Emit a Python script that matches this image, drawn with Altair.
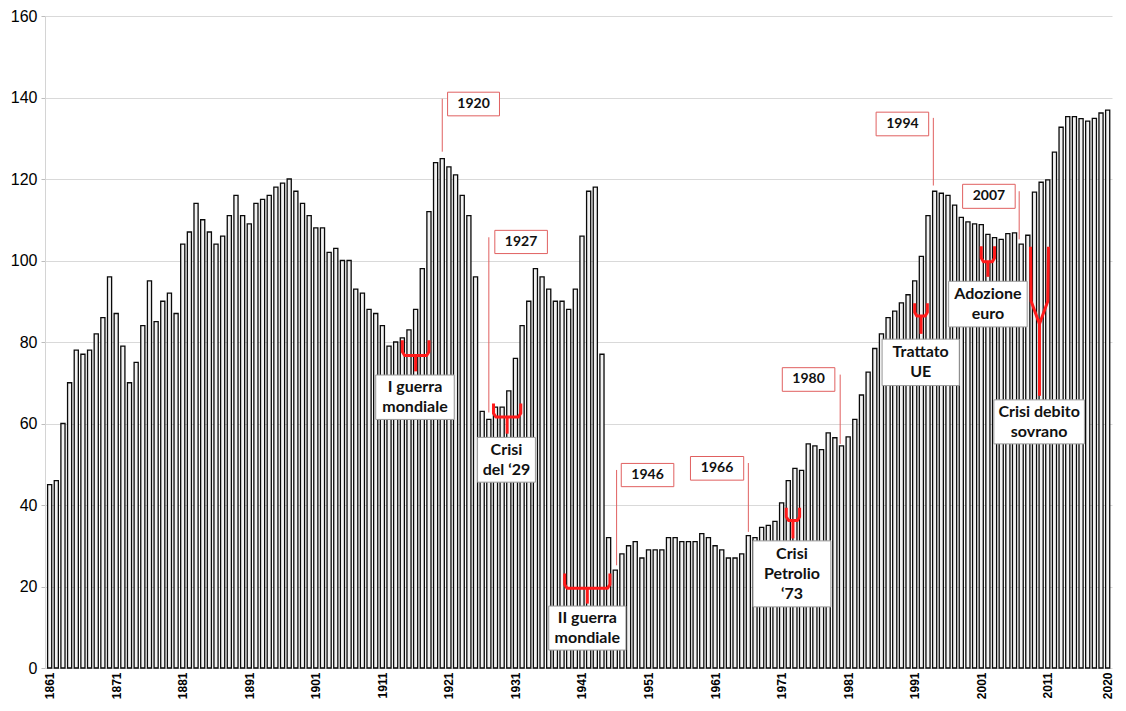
import altair as alt
import pandas as pd

# ---------------- data ----------------
years = list(range(1861, 2021))
debt = [45, 46, 60, 70, 78, 77, 78, 82, 86, 96,            # 1861-1870
        87, 79, 70, 75, 84, 95, 85, 90, 92, 87,            # 1871-1880
        104, 107, 114, 110, 107, 104, 106, 111, 116, 111,  # 1881-1890
        109, 114, 115, 116, 118, 119, 120, 117, 114, 111,  # 1891-1900
        108, 108, 102, 103, 100, 100, 93, 92, 88, 87,      # 1901-1910
        84, 79, 80, 81, 83, 88, 98, 112, 124, 125,         # 1911-1920
        123, 121, 116, 111, 96, 63, 61, 64, 64, 68,        # 1921-1930
        76, 84, 90, 98, 96, 93, 90, 90, 88, 93,            # 1931-1940
        106, 117, 118, 77, 32, 24, 28, 30, 31, 27,         # 1941-1950
        29, 29, 29, 32, 32, 31, 31, 31, 33, 32,            # 1951-1960
        30, 29, 27, 27, 28, 32.5, 32, 34.5, 35, 36,        # 1961-1970
        40.5, 46, 49, 48.5, 55, 54.5, 53.6, 57.7, 56.5, 54.5,   # 1971-1980
        56.7, 61, 67, 72.6, 78.4, 82, 86, 87.6, 89.6, 91.6,     # 1981-1990
        95, 101, 111, 117, 116.5, 116, 113.6, 110.6, 109.5, 109,  # 1991-2000
        108.8, 106.4, 105.6, 105.2, 106.6, 106.8, 104, 106.2, 116.8, 119.2,  # 2001-2010
        119.8, 126.6, 132.7, 135.3, 135.3, 134.8, 134.2, 134.9, 136.2, 136.9]  # 2011-2020

x_ticks = [1861, 1871, 1881, 1891, 1901, 1911, 1921, 1931, 1941, 1951,
           1961, 1971, 1981, 1991, 2001, 2011, 2020]
y_ticks = [0, 20, 40, 60, 80, 100, 120, 140, 160]

# year call-outs (red boxes)
yb_text = ["1920", "1927", "1946", "1966", "1980", "1994", "2007"]
yb_x1 = [1920.8, 1927.9, 1946.9, 1957.3, 1971.1, 1985.2, 1998.2]
yb_x2 = [1928.6, 1935.8, 1954.8, 1965.3, 1979.0, 1993.1, 2006.1]
yb_y1 = [135.5, 101.7, 44.5, 46.1, 67.9, 130.6, 112.8]
yb_y2 = [141.3, 107.4, 50.2, 51.9, 73.7, 136.4, 118.7]
ptr_x = [1920, 1927, 1946.2, 1966, 1979.8, 1993.8, 2006.7]
ptr_top = [139.7, 105.7, 48.6, 50.3, 72, 135, 117]
ptr_bot = [126.7, 62.7, 25.2, 33.4, 55, 118.4, 105.2]

# event text boxes
tb_text = ["I guerra\nmondiale", "Crisi\ndel \u201829", "II guerra\nmondiale",
           "Crisi\nPetrolio\n\u201873", "Trattato\nUE", "Adozione\neuro",
           "Crisi debito\nsovrano"]
tb_x1 = [1910.0, 1925.3, 1936.0, 1966.7, 1986.1, 1996.1, 2002.9]
tb_x2 = [1921.8, 1934.0, 1947.6, 1978.4, 1997.7, 2007.9, 2016.5]
tb_y1 = [61.0, 45.6, 4.4, 15.0, 69.3, 83.7, 55.0]
tb_y2 = [71.9, 56.6, 15.2, 31.2, 80.7, 94.9, 65.8]

# red braces
br_x1 = [1914.0, 1927.7, 1938.4, 1971.7, 1991.0, 2001.0]
br_x2 = [1918.0, 1931.8, 1945.2, 1973.7, 1992.9, 2003.0]
br_top = [80.4, 64.9, 23.2, 39.3, 89.5, 103.5]
br_mid = [76.7, 61.6, 19.6, 36.2, 86.4, 99.7]
br_bot = [72.8, 57.5, 15.8, 31.8, 82.0, 96.0]
# sovereign-debt "V" brace
v_x = [2008.4, 2008.5, 2009.75, 2011.0, 2011.1]
v_y = [103.4, 90.0, 84.4, 90.0, 103.4]
v_stem_x = [2009.75, 2009.75]
v_stem_y = [84.4, 66.8]

# ---------------- tables ----------------
df_bars = pd.DataFrame({"year": years, "debt": debt})
df_yb = pd.DataFrame({"t": yb_text, "x1": yb_x1, "x2": yb_x2, "y1": yb_y1, "y2": yb_y2})
df_ptr = pd.DataFrame({"x": ptr_x, "y1": ptr_top, "y2": ptr_bot})
df_tb = pd.DataFrame({"t": tb_text, "x1": tb_x1, "x2": tb_x2, "y1": tb_y1, "y2": tb_y2})
df_tb["n"] = [s.count("\n") + 1 for s in tb_text]

pts = []
g = 0
for a, b, t, m, bt in zip(br_x1, br_x2, br_top, br_mid, br_bot):
    c = (a + b) / 2
    r = min(0.35, (b - a) / 6)
    d = 0.9
    seq = [(a, t), (a, m + d), (a + r, m), (b - r, m), (b, m + d), (b, t)]
    for i, (px, py) in enumerate(seq):
        pts.append({"g": g, "o": i, "x": px, "y": py})
    g += 1
    for i, (px, py) in enumerate([(c, m), (c, bt)]):
        pts.append({"g": g, "o": i, "x": px, "y": py})
    g += 1
for i, (px, py) in enumerate(zip(v_x, v_y)):
    pts.append({"g": g, "o": i, "x": px, "y": py})
g += 1
for i, (px, py) in enumerate(zip(v_stem_x, v_stem_y)):
    pts.append({"g": g, "o": i, "x": px, "y": py})
df_br = pd.DataFrame(pts)

# ---------------- scales / axes ----------------
xscale = alt.Scale(domain=[1860.3, 2020.65], nice=False, zero=False)
yscale = alt.Scale(domain=[0, 160], nice=False)

xaxis = alt.Axis(values=x_ticks, format="d", labelAngle=-90, labelFontWeight="bold",
                 labelFontSize=12, labelFont="Liberation Sans", labelColor="#000000",
                 ticks=False, domain=False, grid=False, labelFlush=False,
                 labelOverlap=False, labelBound=False, labelPadding=4, title=None)
yaxis = alt.Axis(values=y_ticks, labelFontSize=16, labelFont="Liberation Sans",
                 labelColor="#000000", gridColor="#d9d9d9", gridWidth=1,
                 domainColor="#d4d4d4", tickColor="#bdbdbd", tickSize=4,
                 labelPadding=4, title=None)


def X(f):
    return alt.X(f, scale=xscale, axis=xaxis, title=None)


def Y(f):
    return alt.Y(f, scale=yscale, axis=yaxis, title=None)


bars = alt.Chart(df_bars).transform_calculate(
    x0="datum.year - 0.31", x1="datum.year + 0.31", base="0"
).mark_bar(fill="#f2f2f2", stroke="#0a0a0a", strokeWidth=1.3).encode(
    x=X("x0:Q"), x2="x1:Q",
    y=Y("debt:Q"), y2="base:Q",
)

ptr = alt.Chart(df_ptr).mark_rule(color="#e06060", strokeWidth=1).encode(
    x=X("x:Q"), y=Y("y1:Q"), y2="y2:Q",
)

yb_rect = alt.Chart(df_yb).mark_rect(fill="white", stroke="#e06060", strokeWidth=1).encode(
    x=X("x1:Q"), x2="x2:Q", y=Y("y1:Q"), y2="y2:Q",
)
yb_text_l = alt.Chart(df_yb).transform_calculate(
    cx="(datum.x1 + datum.x2) / 2", cy="(datum.y1 + datum.y2) / 2"
).mark_text(font="Lato", fontWeight="bold", fontSize=14, color="#111111",
            align="center", baseline="middle").encode(
    x=X("cx:Q"), y=Y("cy:Q"), text="t:N",
)

br = alt.Chart(df_br).mark_line(color="#ff1a1a", strokeWidth=3, strokeJoin="round",
                                strokeCap="butt").encode(
    x=X("x:Q"), y=Y("y:Q"), detail="g:N", order="o:Q",
)

tb_rect = alt.Chart(df_tb).mark_rect(fill="white", stroke="#9a9a9a", strokeWidth=1).encode(
    x=X("x1:Q"), x2="x2:Q", y=Y("y1:Q"), y2="y2:Q",
)


def tb_text_layer(n, dy):
    return alt.Chart(df_tb).transform_filter(f"datum.n == {n}").transform_calculate(
        cx="(datum.x1 + datum.x2) / 2", cy="(datum.y1 + datum.y2) / 2"
    ).mark_text(font="Lato", fontWeight="bold", fontSize=16, color="#111111",
                align="center", baseline="middle", lineBreak="\n", lineHeight=20,
                dy=dy).encode(
        x=X("cx:Q"), y=Y("cy:Q"), text="t:N",
    )


tb_text2 = tb_text_layer(2, -10)
tb_text3 = tb_text_layer(3, -20)

chart = alt.layer(bars, ptr, br, tb_rect, tb_text2, tb_text3, yb_rect, yb_text_l).properties(
    width=1067, height=652,
    autosize=alt.AutoSizeParams(type="none"),
    padding={"left": 37, "top": 8, "right": 6, "bottom": 33},
    background="white",
).configure_view(strokeWidth=0)

chart.save("out.html", embed_options={"renderer": "svg", "actions": False})
